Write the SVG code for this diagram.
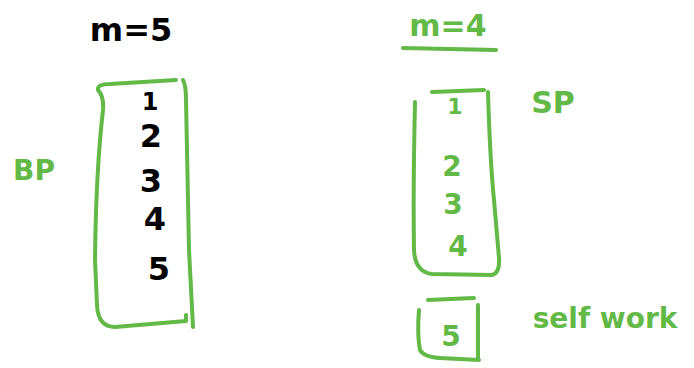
<svg xmlns="http://www.w3.org/2000/svg" width="694" height="368" viewBox="0 0 694 368">
<style>
.g{fill:none;stroke:#62B946;stroke-width:4;stroke-linecap:round;stroke-linejoin:round}
.t{font-family:"DejaVu Sans","Liberation Sans",sans-serif;text-anchor:middle;font-weight:bold}
.k{fill:#000}
.gt{fill:#62B946}
</style>
<rect width="694" height="368" fill="#fff"/>
<g id="title-left"><text class="t k" x="131" y="41" font-size="32">m=5</text></g>
<g id="title-right">
<text class="t gt" x="448" y="36" font-size="30">m=4</text>
<path class="g" d="M403 48 L496 50" stroke-width="5"/>
</g>
<g id="label-bp"><text class="t gt" x="34" y="180" font-size="28">BP</text></g>
<g id="box-left">
<path class="g" d="M98 90 Q97 84 110 84 L176 80 M183 80 Q186 85 186 100 L189 250 L193 327 M186 315 L186 321 L115 327 Q98 327 97 305 L95 260 Q96 170 103 110 Q104 96 98 90"/>
<text class="t k" x="150" y="110" font-size="24">1</text>
<text class="t k" x="151" y="147" font-size="32">2</text>
<text class="t k" x="151" y="192" font-size="32">3</text>
<text class="t k" x="155" y="230" font-size="32">4</text>
<text class="t k" x="159" y="280" font-size="32">5</text>
</g>
<g id="box-right">
<path class="g" d="M432 92 L484 90 M415 102 Q413 190 414 250 Q415 272 432 274 L492 275 Q500 273 499 258 L494 200 Q490 160 488 92"/>
<text class="t gt" x="455" y="114" font-size="22">1</text>
<text class="t gt" x="452" y="176" font-size="28">2</text>
<text class="t gt" x="453" y="214" font-size="28">3</text>
<text class="t gt" x="458" y="256" font-size="28">4</text>
</g>
<g id="label-sp"><text class="t gt" x="553" y="113" font-size="30">SP</text></g>
<g id="box-five">
<path class="g" d="M428 300 L474 298 M419 310 Q417 335 420 350 Q424 357 440 358 L479 360 M478 305 L478 360"/>
<text class="t gt" x="451" y="346" font-size="28">5</text>
</g>
<g id="label-self-work"><text class="t gt" x="605" y="328" font-size="28">self work</text></g>
<g id="connectors"></g>
</svg>
